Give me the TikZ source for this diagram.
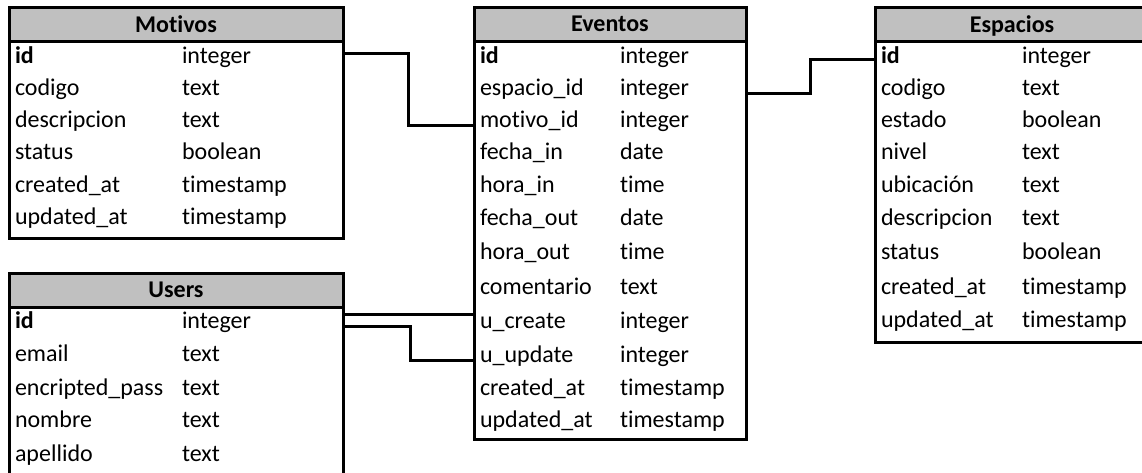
\documentclass[tikz,border=0pt]{standalone}
\usepackage{fontspec}
\setmainfont{Carlito}[Ligatures={NoCommon}]
\usetikzlibrary{calc}
\definecolor{hdrgray}{RGB}{192,192,192}
\begin{document}
\begin{tikzpicture}[x=1pt,y=-1pt,
  tbl/.style={draw,line width=3pt,fill=white,inner sep=0pt,outer sep=0pt,anchor=north west},
  hdr/.style={draw,line width=3pt,fill=hdrgray,inner sep=0pt,outer sep=0pt,anchor=north west,
    minimum height=34pt,text depth=0pt,font=\fontsize{24}{28}\selectfont\bfseries},
  fld/.style={anchor=mid west,inner sep=0pt,outer sep=0pt,font=\fontsize{24}{28}\selectfont},
  keyfld/.style={fld,font=\fontsize{24}{28}\selectfont\bfseries},
  conn/.style={line width=3pt}]
\useasboundingbox (0,0) rectangle (1142,472);
\clip (0,0) rectangle (1142,472);

% ---------- Motivos ----------
\node[tbl,minimum width=334pt,minimum height=231pt] (motivos) at (9,7) {};
\node[hdr,minimum width=334pt] (motivos-h) at (9,7) {Motivos};
\node[keyfld] (mot-0) at (15,61) {id};
\node[fld] (mot-t0) at (182,61) {integer};
\foreach \i/\n/\t/\y in {1/codigo/text/93,2/descripcion/text/125,3/status/boolean/157,
  4/created\_at/timestamp/190,5/updated\_at/timestamp/222}{
  \node[fld] (mot-\i) at (15,\y) {\n};
  \node[fld] (mot-t\i) at (182,\y) {\t};
}

% ---------- Users ----------
\node[tbl,minimum width=334pt,minimum height=220pt] (users) at (9,273) {};
\node[hdr,minimum width=334pt] (users-h) at (9,273) {Users};
\node[keyfld] (us-0) at (15,326) {id};
\node[fld] (us-t0) at (182,326) {integer};
\foreach \i/\n/\t/\y in {1/email/text/359,2/encripted\_pass/text/393,3/nombre/text/425,
  4/apellido/text/459}{
  \node[fld] (us-\i) at (15,\y) {\n};
  \node[fld] (us-t\i) at (182,\y) {\t};
}

% ---------- Eventos ----------
\node[tbl,minimum width=272pt,minimum height=432pt] (eventos) at (474,7) {};
\node[hdr,minimum width=272pt] (eventos-h) at (474,7) {Eventos};
\node[keyfld] (ev-0) at (480,61) {id};
\node[fld] (ev-t0) at (620,61) {integer};
\foreach \i/\n/\t/\y in {1/espacio\_id/integer/93,2/motivo\_id/integer/125,3/fecha\_in/date/157,
  4/hora\_in/time/190,5/fecha\_out/date/223,6/hora\_out/time/257,7/comentario/text/292,
  8/u\_create/integer/326,9/u\_update/integer/360,10/created\_at/timestamp/393,
  11/updated\_at/timestamp/425}{
  \node[fld] (ev-\i) at (480,\y) {\n};
  \node[fld] (ev-t\i) at (620,\y) {\t};
}

% ---------- Espacios ----------
\node[tbl,minimum width=274pt,minimum height=335pt] (espacios) at (875,7) {};
\node[hdr,minimum width=274pt] (espacios-h) at (875,7) {Espacios};
\node[keyfld] (esp-0) at (881,61) {id};
\node[fld] (esp-t0) at (1022,61) {integer};
\foreach \i/\n/\t/\y in {1/codigo/text/93,2/estado/boolean/125,3/nivel/text/157,
  4/ubicación/text/190,5/descripcion/text/223,6/status/boolean/257,
  7/created\_at/timestamp/292,8/updated\_at/timestamp/325}{
  \node[fld] (esp-\i) at (881,\y) {\n};
  \node[fld] (esp-t\i) at (1022,\y) {\t};
}

% ---------- Connectors ----------
\draw[conn] ($(motivos.east |- mot-0.mid)+(0,-8)$) -- ++(65,0) |- (eventos.west |- ev-2.mid);
\draw[conn] (eventos.east |- ev-1.mid) -- ++(64,0) |- ($(espacios.west |- esp-0.mid)+(0,-2)$);
\draw[conn] ($(users.east |- ev-8.mid)+(0,-12)$) -- ($(eventos.west |- ev-8.mid)+(0,-12)$);
\draw[conn] (users.east |- us-0.mid) -- ++(67,0) |- (eventos.west |- ev-9.mid);
\end{tikzpicture}
\end{document}
